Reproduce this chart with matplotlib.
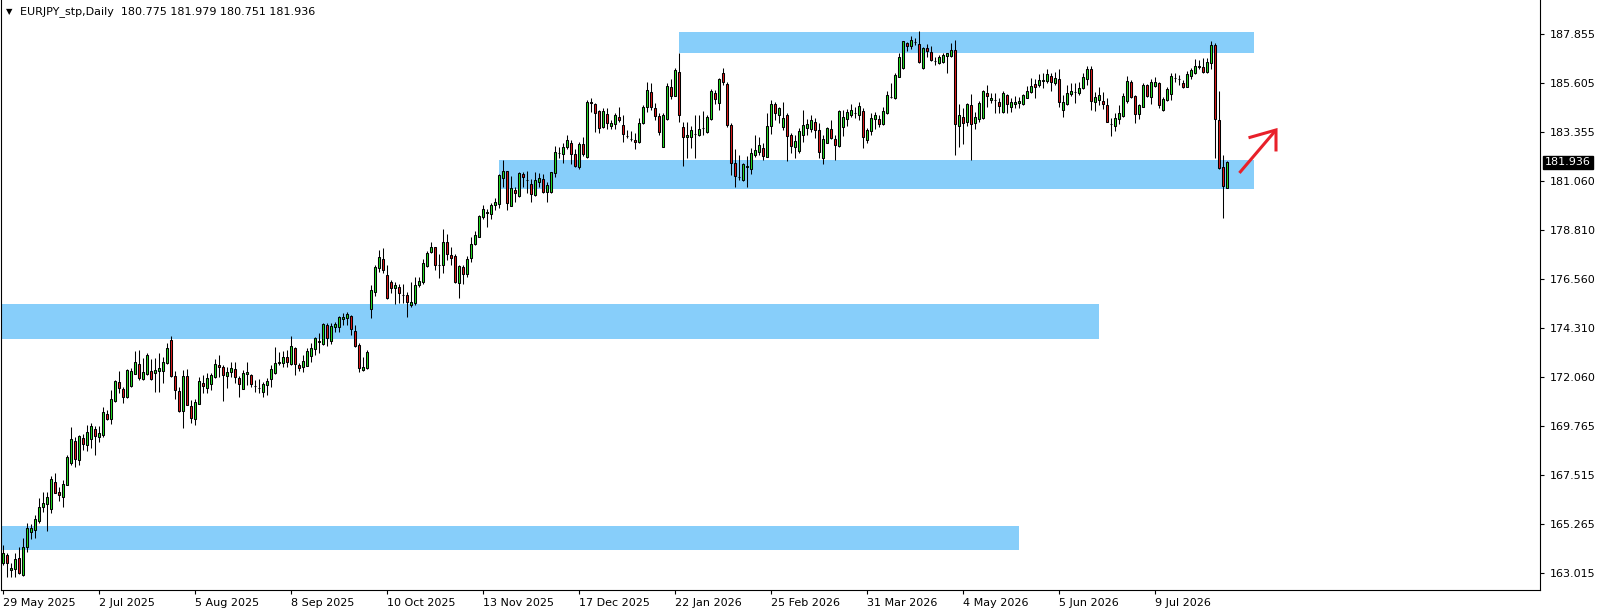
import matplotlib
matplotlib.use('Agg')
import matplotlib.pyplot as plt
import matplotlib.transforms as mtransforms
from matplotlib.patches import Rectangle
import numpy as np

# EURJPY_stp daily candles, 29 May 2025 .. 4 Aug 2026
opens = [
    163.48, 163.85, 163.16, 163.20, 163.71, 162.93, 164.22, 164.90, 164.99, 165.39,
    166.06, 166.20, 165.97, 167.21, 166.75, 166.52, 167.07, 168.09, 169.10, 168.22,
    169.24, 168.92, 169.19, 169.65, 169.28, 169.38, 170.34, 170.11, 170.94, 171.82,
    171.50, 171.13, 171.64, 172.19, 172.65, 171.96, 172.19, 172.33, 172.23, 172.33,
    172.33, 172.69, 173.75, 172.09, 171.40, 170.48, 172.09, 170.71, 170.11, 170.80,
    171.77, 171.54, 171.73, 172.05, 172.60, 172.51, 172.09, 172.28, 172.42, 172.00,
    171.50, 172.19, 172.14, 171.64, 171.56, 171.36, 171.68, 171.96, 172.23, 172.69,
    172.69, 172.97, 172.65, 173.39, 172.60, 172.51, 172.56, 173.02, 173.34, 173.66,
    173.57, 174.45, 173.71, 174.35, 174.35, 174.72, 174.77, 174.86, 174.17, 173.52,
    172.37, 172.47, 175.18, 175.97, 177.07, 177.49, 176.75, 176.43, 176.15, 176.20,
    175.83, 175.83, 175.37, 175.46, 176.29, 176.43, 177.16, 177.81, 178.04, 177.21,
    177.21, 178.27, 177.67, 177.63, 176.38, 177.12, 176.80, 177.53, 178.18, 178.50,
    179.42, 179.61, 179.56, 179.97, 180.02, 181.22, 181.54, 179.93, 180.67, 180.39,
    181.40, 181.13, 180.94, 180.44, 181.04, 181.17, 180.57, 180.57, 181.45, 182.37,
    182.33, 182.65, 182.83, 182.33, 181.73, 182.79, 182.19, 184.72, 184.63, 184.31,
    183.57, 184.17, 183.62, 183.71, 184.03, 183.66, 183.16, 183.02, 182.97, 182.88,
    183.75, 184.49, 185.18, 184.45, 184.08, 182.65, 183.94, 185.41, 185.00, 186.10,
    183.57, 183.11, 183.11, 183.25, 183.20, 183.52, 183.34, 183.94, 185.14, 184.68,
    186.06, 185.55, 183.66, 181.91, 181.27, 181.13, 181.73, 181.63, 182.28, 182.42,
    182.60, 182.19, 183.62, 184.63, 184.12, 183.57, 184.12, 183.20, 182.65, 182.46,
    183.20, 183.52, 183.48, 183.80, 183.43, 182.14, 182.83, 183.48, 183.02, 182.69,
    183.57, 183.94, 184.12, 184.22, 184.12, 184.31, 182.97, 183.39, 183.94, 183.94,
    183.71, 184.21, 184.96, 184.91, 185.87, 186.29, 187.44, 187.30, 187.49, 187.39,
    186.29, 187.21, 187.03, 186.62, 186.52, 186.57, 186.84, 186.84, 187.12, 183.62,
    184.03, 183.80, 184.58, 183.75, 183.94, 183.98, 185.14, 184.81, 184.82, 184.72,
    184.26, 185.04, 184.49, 184.63, 184.68, 184.63, 184.91, 185.18, 185.55, 185.50,
    185.69, 185.69, 185.92, 185.60, 185.78, 184.35, 184.63, 185.09, 185.18, 185.14,
    185.37, 185.78, 186.24, 184.72, 184.81, 184.77, 184.58, 183.72, 183.62, 183.94,
    184.08, 184.77, 185.64, 185.00, 184.17, 184.49, 185.50, 184.96, 185.46, 185.60,
    184.35, 184.81, 185.09, 185.83, 185.78, 185.60, 185.41, 185.92, 186.06, 186.33,
    186.33, 186.10, 186.52, 187.35, 183.89, 181.73, 180.775]
highs = [
    164.31, 163.94, 163.48, 163.94, 164.22, 164.64, 165.32, 165.27, 165.69, 166.47,
    166.75, 166.75, 167.49, 167.62, 166.98, 167.30, 168.45, 169.75, 169.28, 169.38,
    169.42, 169.84, 169.93, 169.79, 169.79, 170.67, 170.53, 171.45, 171.91, 172.33,
    171.59, 172.42, 172.47, 173.25, 173.29, 172.92, 173.15, 172.88, 172.92, 173.15,
    172.97, 173.62, 173.94, 172.33, 171.59, 172.37, 172.42, 170.99, 171.04, 172.05,
    172.14, 172.23, 172.23, 172.88, 173.06, 172.60, 172.51, 172.74, 172.74, 172.09,
    172.37, 172.74, 172.19, 171.91, 171.96, 171.82, 172.00, 172.60, 173.43, 173.20,
    173.25, 173.29, 173.94, 173.43, 172.69, 173.06, 173.39, 173.62, 173.89, 174.07,
    174.54, 174.54, 174.54, 174.58, 174.86, 174.99, 175.04, 174.90, 174.45, 173.62,
    172.97, 173.29, 176.29, 177.21, 177.90, 178.00, 177.21, 176.52, 176.43, 176.33,
    176.33, 175.97, 176.43, 176.66, 176.66, 177.49, 177.86, 178.27, 178.04, 177.72,
    178.87, 178.64, 178.04, 177.72, 177.21, 177.21, 177.63, 178.50, 178.78, 179.52,
    179.97, 179.79, 180.07, 180.30, 181.40, 182.05, 181.54, 181.31, 180.80, 181.50,
    181.50, 181.54, 181.17, 181.50, 181.45, 181.40, 181.04, 181.50, 182.69, 182.65,
    182.83, 183.20, 182.97, 182.56, 182.88, 183.11, 184.81, 184.91, 184.67, 184.35,
    184.45, 184.45, 183.89, 184.21, 184.49, 184.12, 183.43, 183.39, 183.29, 183.98,
    184.58, 185.64, 185.60, 184.68, 184.21, 184.21, 185.60, 185.78, 186.29, 186.98,
    183.80, 183.80, 183.62, 184.12, 184.12, 184.31, 184.12, 185.32, 185.27, 185.83,
    186.29, 185.64, 183.75, 182.56, 182.28, 181.91, 182.23, 182.60, 183.20, 183.11,
    182.83, 184.21, 184.81, 184.72, 184.49, 184.72, 184.21, 183.29, 183.20, 183.52,
    184.35, 183.94, 184.12, 183.98, 183.75, 183.20, 183.57, 183.89, 183.20, 184.35,
    184.35, 184.40, 184.63, 184.49, 184.72, 184.45, 183.52, 184.21, 184.26, 184.12,
    184.49, 185.23, 185.60, 186.06, 186.98, 187.53, 187.49, 187.76, 187.67, 187.99,
    187.26, 187.39, 187.30, 186.80, 186.89, 186.98, 187.00, 187.44, 187.58, 184.63,
    184.45, 184.68, 185.09, 184.26, 184.77, 185.27, 185.50, 185.14, 185.14, 184.91,
    185.23, 185.09, 184.91, 185.00, 184.96, 185.09, 185.46, 185.83, 185.78, 186.01,
    186.06, 186.24, 186.06, 186.10, 186.24, 185.04, 185.50, 185.60, 185.60, 185.64,
    186.06, 186.38, 186.38, 185.18, 185.41, 185.18, 184.91, 183.98, 184.21, 184.58,
    185.14, 185.92, 185.74, 185.04, 184.63, 185.60, 185.55, 185.78, 185.87, 185.64,
    184.96, 185.41, 186.06, 186.06, 185.97, 185.74, 186.15, 186.29, 186.70, 186.66,
    186.75, 186.75, 187.53, 187.44, 185.23, 182.28, 181.979]
lows = [
    163.38, 162.83, 162.83, 162.83, 162.97, 162.88, 163.98, 164.58, 164.64, 165.33,
    165.83, 164.95, 165.78, 166.70, 166.33, 166.06, 167.07, 167.99, 167.90, 167.99,
    168.68, 168.64, 168.78, 168.45, 169.05, 169.28, 170.07, 169.88, 170.90, 171.31,
    170.85, 171.08, 171.59, 172.19, 171.91, 171.91, 172.14, 171.91, 171.36, 171.36,
    171.77, 172.65, 172.05, 171.04, 170.44, 169.70, 170.76, 169.93, 169.84, 170.80,
    171.31, 171.31, 171.45, 172.00, 172.05, 170.94, 171.54, 172.05, 171.77, 171.13,
    171.50, 171.68, 171.59, 171.36, 171.31, 171.13, 171.22, 171.59, 172.19, 172.60,
    172.51, 172.51, 172.60, 172.14, 172.33, 172.28, 172.56, 172.74, 173.06, 173.15,
    173.52, 173.48, 173.57, 174.12, 174.12, 174.45, 174.45, 173.98, 173.43, 172.28,
    172.33, 172.42, 174.77, 175.78, 176.89, 176.84, 175.64, 175.92, 175.41, 175.46,
    175.46, 174.81, 175.27, 175.37, 176.20, 176.33, 177.12, 177.76, 176.98, 176.61,
    176.84, 177.44, 177.21, 176.38, 175.69, 176.33, 176.66, 177.35, 178.13, 178.50,
    179.33, 178.96, 179.33, 179.74, 179.84, 180.80, 179.74, 179.93, 180.11, 180.34,
    180.80, 180.53, 180.11, 180.39, 180.80, 180.53, 180.11, 180.53, 181.27, 182.14,
    181.91, 182.56, 181.86, 181.73, 181.63, 182.23, 182.14, 184.26, 183.34, 183.29,
    183.52, 183.48, 183.48, 183.48, 183.80, 182.88, 183.06, 182.92, 182.56, 182.83,
    183.71, 184.26, 184.35, 183.89, 183.20, 182.65, 183.89, 184.86, 185.00, 183.80,
    181.77, 182.14, 182.60, 182.14, 183.15, 183.20, 183.29, 183.89, 184.63, 184.35,
    185.50, 183.57, 181.36, 180.80, 181.13, 181.08, 180.80, 181.40, 182.19, 182.28,
    182.05, 182.19, 183.25, 183.89, 183.75, 183.43, 182.00, 182.37, 182.14, 182.37,
    182.88, 183.20, 183.34, 183.06, 182.14, 181.86, 182.83, 183.02, 182.05, 182.65,
    183.15, 183.62, 184.03, 183.98, 183.89, 182.60, 182.83, 183.20, 183.48, 183.57,
    183.66, 184.17, 184.91, 184.86, 185.87, 186.24, 187.07, 187.16, 187.35, 186.52,
    186.24, 186.80, 186.61, 186.43, 186.47, 186.52, 186.06, 186.80, 182.28, 182.65,
    182.79, 183.62, 182.05, 183.48, 183.80, 183.94, 184.49, 184.68, 184.21, 184.21,
    184.21, 184.21, 184.26, 184.45, 184.45, 184.58, 184.91, 185.14, 184.91, 185.41,
    185.37, 185.60, 185.23, 185.50, 184.49, 184.03, 184.58, 185.00, 184.68, 185.04,
    185.32, 185.50, 184.35, 184.31, 184.58, 184.40, 183.80, 183.15, 183.39, 183.71,
    184.03, 184.68, 184.91, 183.75, 183.94, 184.49, 184.96, 184.63, 185.41, 184.45,
    184.31, 184.77, 184.81, 185.64, 185.50, 185.37, 185.41, 185.78, 186.01, 186.24,
    186.06, 186.06, 186.24, 182.14, 181.63, 179.38, 180.751]
closes = [
    163.94, 163.48, 163.25, 163.66, 163.02, 164.22, 165.09, 165.09, 165.50, 166.06,
    166.24, 166.52, 167.35, 166.70, 166.61, 167.12, 168.36, 169.19, 168.27, 169.33,
    168.96, 169.52, 169.79, 169.33, 169.47, 170.44, 170.11, 171.04, 171.86, 171.54,
    171.13, 172.37, 172.33, 172.74, 172.00, 172.28, 173.06, 171.96, 172.37, 172.47,
    172.74, 173.39, 172.09, 171.45, 170.48, 172.09, 170.76, 170.16, 170.90, 171.86,
    171.64, 172.00, 172.14, 172.65, 172.51, 172.14, 172.28, 172.47, 172.05, 171.73,
    172.23, 172.28, 171.73, 171.62, 171.54, 171.73, 171.86, 172.42, 172.69, 172.74,
    172.97, 172.74, 173.48, 172.65, 172.47, 172.79, 173.25, 173.39, 173.85, 173.69,
    174.49, 173.85, 174.40, 174.49, 174.81, 174.81, 174.95, 174.26, 173.48, 172.47,
    172.51, 173.20, 176.06, 177.12, 177.58, 176.98, 175.69, 176.15, 176.29, 175.92,
    175.81, 175.51, 175.51, 176.29, 176.47, 177.30, 177.76, 178.04, 177.21, 177.19,
    178.27, 177.72, 177.53, 176.43, 177.16, 176.80, 177.49, 178.18, 178.59, 179.47,
    179.79, 179.63, 179.97, 180.11, 181.36, 181.54, 180.07, 180.76, 180.53, 181.45,
    181.27, 181.11, 180.48, 181.13, 181.22, 180.57, 180.90, 181.50, 182.42, 182.39,
    182.65, 182.97, 182.33, 181.77, 182.79, 182.33, 184.72, 184.67, 184.21, 183.52,
    184.31, 183.75, 183.75, 184.12, 183.89, 183.25, 183.15, 183.01, 182.88, 183.75,
    184.49, 185.27, 184.49, 184.08, 183.34, 184.12, 185.46, 185.00, 186.20, 184.12,
    183.11, 183.20, 183.43, 183.24, 183.48, 183.53, 184.03, 185.23, 184.86, 185.78,
    185.64, 183.66, 181.91, 181.31, 181.25, 181.86, 181.75, 182.37, 182.51, 182.74,
    182.23, 183.62, 184.63, 184.21, 184.45, 183.98, 183.15, 182.69, 182.92, 183.39,
    183.66, 183.71, 183.89, 183.43, 182.42, 183.02, 183.52, 183.06, 182.74, 184.31,
    184.03, 184.26, 184.35, 184.21, 184.54, 183.11, 183.43, 183.98, 184.12, 183.71,
    184.31, 185.04, 184.95, 185.97, 186.80, 187.53, 187.30, 187.58, 187.48, 186.57,
    187.21, 187.07, 186.66, 186.61, 186.80, 186.89, 186.98, 187.12, 183.71, 184.12,
    183.75, 184.63, 183.71, 184.03, 184.68, 185.23, 185.00, 184.91, 184.81, 184.54,
    185.14, 184.63, 184.72, 184.72, 184.77, 185.04, 185.23, 185.46, 185.41, 185.74,
    185.74, 186.01, 185.64, 185.83, 184.72, 184.72, 185.14, 185.23, 185.18, 185.37,
    185.87, 186.24, 184.77, 184.96, 185.04, 184.63, 183.80, 183.71, 183.98, 184.21,
    185.00, 185.69, 184.96, 184.17, 184.58, 185.50, 185.00, 185.64, 185.64, 184.58,
    184.86, 185.32, 185.92, 185.83, 185.79, 185.41, 186.01, 186.20, 186.38, 186.38,
    186.10, 186.57, 187.35, 183.94, 181.68, 180.85, 181.936]

date_labels = ['29 May 2025', '2 Jul 2025', '5 Aug 2025', '8 Sep 2025', '10 Oct 2025',
               '13 Nov 2025', '17 Dec 2025', '22 Jan 2026', '25 Feb 2026', '31 Mar 2026',
               '4 May 2026', '5 Jun 2026', '9 Jul 2026']
date_bars = [0, 24, 48, 72, 96, 120, 144, 168, 192, 216, 240, 264, 288]

price_labels = ['187.855', '185.605', '183.355', '181.060', '178.810', '176.560',
                '174.310', '172.060', '169.765', '167.515', '165.265', '163.015']

# zones drawn on the chart: first bar, last bar, top, bottom
zone_start = [169, 124, -5, -5]
zone_end = [312.75, 312.75, 274, 254]
zone_top = [187.95, 182.05, 175.41, 165.18]
zone_bottom = [186.98, 180.71, 173.80, 164.08]

# hand drawn arrow (shaft + head)
arrow_shaft_x = [309.1, 318.25]
arrow_shaft_y = [181.45, 183.43]
arrow_head_x = [311.75, 318.25, 318.25]
arrow_head_y = [183.09, 183.43, 182.51]

last_price = '181.936'
title = 'EURJPY_stp,Daily  180.775 181.979 180.751 181.936'

o = np.array(opens)
h = np.array(highs)
l = np.array(lows)
c = np.array(closes)
h = np.maximum(h, np.maximum(o, c))
l = np.minimum(l, np.minimum(o, c))
x = np.arange(len(o))
body_colors = np.where(c >= o, '#22dd22', '#dd1a1a')

fig = plt.figure(figsize=(16.04, 6.15), dpi=100)
ax = fig.add_axes([1 / 1604, 25 / 615, 1539 / 1604, 590 / 615])

for x0, x1, top, bot in zip(zone_start, zone_end, zone_top, zone_bottom):
    ax.add_patch(Rectangle((x0, bot), x1 - x0, top - bot, facecolor='#87cefa',
                           edgecolor='none', zorder=1))

ax.vlines(x, l, h, colors='black', linewidth=0.75, zorder=2)
ax.bar(x, c - o, bottom=o, width=0.5, color=body_colors, edgecolor='black',
       linewidth=0.75, zorder=3)

ax.plot(arrow_shaft_x, arrow_shaft_y, color='#e8202a', linewidth=2.2,
        solid_capstyle='butt', zorder=4)
ax.plot(arrow_head_x, arrow_head_y, color='#e8202a', linewidth=2.2,
        solid_joinstyle='miter', zorder=4)

ax.set_xlim(-0.5, 384.25)
ax.set_ylim(162.23, 189.42)

ax.spines['top'].set_visible(False)
for s in ['left', 'right', 'bottom']:
    ax.spines[s].set_linewidth(0.8)
    ax.spines[s].set_color('black')

ax.yaxis.tick_right()
ax.set_yticks([float(p) for p in price_labels])
ax.set_yticklabels(price_labels)
ax.set_xticks(date_bars)
ax.set_xticklabels(date_labels)
for lbl in ax.get_xticklabels():
    lbl.set_horizontalalignment('left')
ax.tick_params(axis='both', direction='out', length=3, width=0.8, labelsize=8,
               colors='black')
ax.tick_params(axis='y', pad=4)
ax.tick_params(axis='x', pad=3)

# last price marker on the price scale
trans = mtransforms.blended_transform_factory(ax.transAxes, ax.transData)
ax.text(1.0033, float(last_price), last_price, transform=trans, color='white',
        fontsize=8, va='center', ha='left', zorder=6,
        bbox=dict(boxstyle='square,pad=0.15', facecolor='black', edgecolor='black'))

fig.text(6 / 1604, 1 - 12 / 615, '\u25bc', fontsize=6, va='center', ha='left')
fig.text(20 / 1604, 1 - 12 / 615, title, fontsize=8, va='center', ha='left')

fig.savefig('out.png', dpi=100)
